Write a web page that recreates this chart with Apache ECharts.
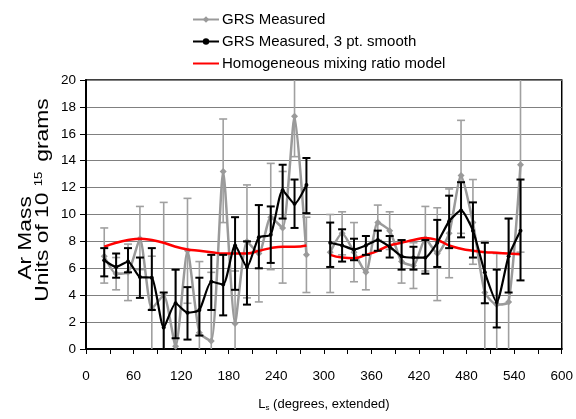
<!DOCTYPE html>
<html>
<head>
<meta charset="utf-8">
<script src="https://cdn.jsdelivr.net/npm/echarts@6/dist/echarts.min.js"></script>
<style>
  html, body { margin: 0; padding: 0; background: #fff; }
  #main { width: 576px; height: 419px; }
</style>
</head>
<body>
<div id="main"></div>
<script>
(function() {
    // Ls positions of the points (293 is the gap in the record)
    var lsDeg = [23, 38, 53, 68, 83, 98, 113, 128, 143, 158, 173, 188, 203, 218, 233, 248, 263, 278,
                 293,
                 308, 323, 338, 353, 368, 383, 398, 413, 428, 443, 458, 473, 488, 503, 518, 533, 548];

    // GRS measured (grey)
    var grayVal  = [6.9, 5.6, 5.7, 8.2, 3.0, 4.0, 0.2, 7.3, 1.2, 0.6, 13.2, 1.9, 8.0, 7.1, 9.8, 9.0, 17.3, 7.0,
                    null,
                    7.2, 8.6, 7.2, 5.7, 9.4, 8.8, 6.5, 6.2, 8.2, 7.1, 8.6, 12.9, 9.4, 4.2, 3.3, 3.5, 13.7];
    var grayLow  = [4.9, 4.4, 3.6, 5.9, -0.9, -2.8, -5.5, 3.4, -4.1, -4.5, 9.4, -2.0, 3.8, 3.5, 5.9, 4.9, 14.3, 4.2,
                    null,
                    4.2, 7.0, 5.0, 4.4, 8.1, 7.4, 4.9, 4.5, 5.8, 3.6, 5.3, 8.6, 6.3, -0.5, -0.5, -2.7, 7.2];
    var grayHigh = [9.0, 6.8, 7.8, 10.6, 6.9, 10.9, 5.9, 11.2, 6.5, 5.7, 17.1, 5.8, 12.2, 10.7, 13.8, 13.2, 20.3, 9.8,
                    null,
                    10.0, 10.2, 9.4, 7.0, 10.7, 10.2, 8.1, 7.9, 10.6, 10.5, 11.9, 17.0, 12.6, 8.0, 7.1, 9.7, 20.2];

    // GRS measured, 3 pt. smooth (black)
    var blackVal  = [6.6, 6.1, 6.5, 5.35, 5.3, 1.6, 3.4, 2.7, 2.9, 5.0, 4.8, 7.7, 6.1, 8.3, 8.5, 11.8, 10.8, 12.2,
                     null,
                     7.9, 7.7, 7.4, 7.7, 8.1, 7.6, 6.9, 6.8, 6.8, 7.9, 9.5, 10.3, 8.8, 5.7, 3.5, 6.9, 8.8];
    var blackLow  = [5.4, 5.3, 5.7, 3.8, 2.9, -0.8, 0.8, 0.7, 1.0, 2.9, 2.5, 4.4, 3.3, 6.0, 6.4, 9.7, 9.0, 10.1,
                     null,
                     6.1, 6.5, 6.6, 7.0, 7.3, 6.8, 5.9, 5.9, 5.6, 6.1, 7.5, 8.3, 6.8, 3.4, 1.6, 4.2, 5.1];
    var blackHigh = [7.5, 7.1, 7.5, 6.8, 7.5, 4.2, 5.9, 4.6, 5.3, 7.0, 7.0, 9.8, 8.0, 10.7, 10.6, 13.7, 12.6, 14.2,
                     null,
                     9.4, 8.9, 8.2, 8.4, 8.8, 8.4, 8.1, 7.6, 8.1, 9.6, 11.4, 12.4, 10.9, 7.9, 5.9, 9.7, 12.6];

    // Homogeneous mixing ratio model (red)
    var modelVal = [7.6, 7.9, 8.1, 8.2, 8.1, 7.9, 7.6, 7.4, 7.3, 7.2, 7.1, 7.1, 7.1, 7.3, 7.5, 7.6, 7.6, 7.7,
                    null,
                    7.0, 6.8, 6.75, 7.0, 7.3, 7.7, 7.9, 8.1, 8.25, 8.1, 7.7, 7.45, 7.3, 7.2, 7.15, 7.1, 7.05];

    var sans = "'Liberation Sans', Arial, sans-serif";

    function linePts(vals) {
        return lsDeg.map(function(x, i) { return [x, vals[i] == null ? '-' : vals[i]]; });
    }
    function barPts(lo, hi) {
        var out = [];
        lsDeg.forEach(function(x, i) {
            if (lo[i] != null) out.push([x, lo[i], hi[i]]);
        });
        return out;
    }
    // vertical error bar with caps
    function errBar(color, width, cap) {
        return function(params, api) {
            var x = api.value(0);
            var a = api.coord([x, api.value(1)]);
            var b = api.coord([x, api.value(2)]);
            var st = { stroke: color, lineWidth: width };
            return {
                type: 'group',
                children: [
                    { type: 'line', shape: { x1: a[0], y1: a[1], x2: b[0], y2: b[1] }, style: st },
                    { type: 'line', shape: { x1: a[0] - cap, y1: a[1], x2: a[0] + cap, y2: a[1] }, style: st },
                    { type: 'line', shape: { x1: b[0] - cap, y1: b[1], x2: b[0] + cap, y2: b[1] }, style: st }
                ]
            };
        };
    }

    var myChart = echarts.init(document.getElementById('main'));

    var option = {
        backgroundColor: '#fff',
        animation: false,
        // y axis title, two rotated lines (stretched along the text like the original)
        graphic: [
            {
                type: 'text', x: 26, y: 238, rotation: Math.PI / 2, scaleX: 1.2,
                style: { text: 'Ar Mass', fontFamily: sans, fontSize: 19, fill: '#000', align: 'center', verticalAlign: 'middle' }
            },
            {
                type: 'text', x: 43, y: 200, rotation: Math.PI / 2, scaleX: 1.2,
                style: {
                    text: '{a|Units of 10 }{sup|15}{a| grams}',
                    align: 'center', verticalAlign: 'middle',
                    rich: {
                        a: { fontFamily: sans, fontSize: 19, fill: '#000', lineHeight: 20 },
                        sup: { fontFamily: sans, fontSize: 11, fill: '#000', verticalAlign: 'top', padding: [0, 3, 8, 0] }
                    }
                }
            }
        ],
        legend: {
            orient: 'vertical',
            left: 187,
            top: 7,
            itemWidth: 26,
            itemHeight: 8,
            itemGap: 7,
            data: [
                'GRS Measured',
                'GRS Measured, 3 pt. smooth',
                { name: 'Homogeneous mixing ratio model', itemStyle: { opacity: 0 } }
            ],
            textStyle: { fontFamily: sans, fontSize: 15, color: '#000', padding: [0, 0, 0, -2] }
        },
        grid: {
            left: 86, right: 14, top: 80, bottom: 70,
            show: true, borderColor: '#000', borderWidth: 1.5
        },
        xAxis: {
            type: 'value', min: 0, max: 600, interval: 60,
            name: 'L{sub|s} (degrees, extended)',
            nameLocation: 'middle', nameGap: 48,
            nameTextStyle: {
                fontFamily: sans, fontSize: 13, color: '#000',
                rich: { sub: { fontFamily: sans, fontSize: 8, verticalAlign: 'bottom', padding: [7, 0, 0, 0] } }
            },
            axisLine: { lineStyle: { color: '#000', width: 2 } },
            axisTick: { length: 5, lineStyle: { color: '#000' } },
            minorTick: { show: true, splitNumber: 2, length: 5, lineStyle: { color: '#000' } },
            splitLine: { show: false },
            axisLabel: { fontFamily: sans, fontSize: 13.5, color: '#000', margin: 20 }
        },
        yAxis: {
            type: 'value', min: 0, max: 20, interval: 2,
            axisLine: { show: true, lineStyle: { color: '#000', width: 2 } },
            axisTick: { show: true, length: 6, lineStyle: { color: '#000' } },
            splitLine: { lineStyle: { color: '#808080', width: 1 } },
            axisLabel: { fontFamily: sans, fontSize: 13.5, color: '#000', margin: 10 }
        },
        series: [
            {
                type: 'custom',
                renderItem: errBar('#a0a0a0', 1.6, 4),
                encode: { x: 0, y: [1, 2] },
                data: barPts(grayLow, grayHigh),
                clip: true,
                z: 1
            },
            {
                name: 'GRS Measured',
                type: 'line',
                data: linePts(grayVal),
                smooth: 0.2,
                symbol: 'diamond',
                symbolSize: 7,
                lineStyle: { color: '#9a9a9a', width: 2.5 },
                itemStyle: { color: '#9a9a9a' },
                z: 2
            },
            {
                name: 'Homogeneous mixing ratio model',
                type: 'line',
                data: linePts(modelVal),
                smooth: true,
                symbol: 'none',
                lineStyle: { color: '#ff0000', width: 2.5 },
                itemStyle: { color: '#ff0000' },
                z: 3
            },
            {
                type: 'custom',
                renderItem: errBar('#000', 2, 4),
                encode: { x: 0, y: [1, 2] },
                data: barPts(blackLow, blackHigh),
                clip: true,
                z: 4
            },
            {
                name: 'GRS Measured, 3 pt. smooth',
                type: 'line',
                data: linePts(blackVal),
                smooth: 0.2,
                symbol: 'circle',
                symbolSize: 4,
                lineStyle: { color: '#000', width: 2.2 },
                itemStyle: { color: '#000' },
                z: 5
            }
        ]
    };

    myChart.setOption(option);
})();
</script>
</body>
</html>
